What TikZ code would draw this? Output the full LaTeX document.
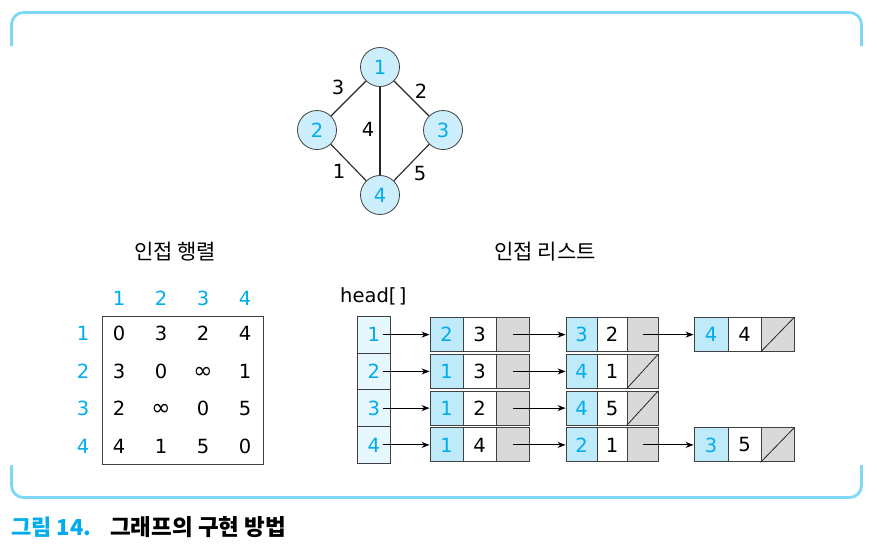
\documentclass[tikz,border=0pt]{standalone}
\usepackage{fontspec}
\setmainfont{DejaVu Sans}
\newfontfamily\kr{Noto Sans CJK KR}
\usetikzlibrary{arrows.meta}
\definecolor{cyantext}{RGB}{0,172,236}
\definecolor{framec}{RGB}{125,215,245}
\definecolor{circfill}{RGB}{205,238,252}
\definecolor{headfill}{RGB}{231,247,254}
\definecolor{keyfill}{RGB}{190,234,250}
\definecolor{grayfill}{RGB}{217,217,217}
\newcommand{\infsym}{{\fontsize{23}{23}\selectfont ∞}}
\tikzset{
  txt/.style={font=\fontsize{19.5}{19.5}\selectfont, inner sep=0pt, text height=14.2pt, text depth=0pt},
  cnum/.style={txt, text=cyantext},
  vert/.style={circle, draw=black!75, line width=0.8pt, fill=circfill, minimum size=39pt, inner sep=0pt, font=\fontsize{19.5}{19.5}\selectfont, text=cyantext},
  edge/.style={line width=1.1pt, black!85},
  box/.style={draw=black!75, line width=0.9pt, inner sep=0pt, minimum height=34pt, font=\fontsize{19.5}{19.5}\selectfont},
  headbox/.style={box, fill=headfill, text=cyantext, minimum width=32.5pt, minimum height=36.8pt},
  keybox/.style={box, fill=keyfill, text=cyantext},
  valbox/.style={box, fill=white},
  ptrbox/.style={box, fill=grayfill},
  link/.style={line width=0.9pt, -{Stealth[length=8pt,width=6pt]}},
  title/.style={font=\kr\fontsize{21}{21}\selectfont, inner sep=0pt},
}
\begin{document}
\begin{tikzpicture}[x=1pt,y=-1pt]
\useasboundingbox (0,0) rectangle (877,555);
% frame
\draw[framec, line width=2.8pt, rounded corners=12pt] (11.5,46) -- (11.5,12.5) -- (861.5,12.5) -- (861.5,46);
\draw[framec, line width=2.8pt, rounded corners=12pt] (11.5,465) -- (11.5,497.5) -- (861.5,497.5) -- (861.5,465);

% graph
\node[vert] (v1) at (380,67) {1};
\node[vert] (v2) at (317,130) {2};
\node[vert] (v3) at (443,130) {3};
\node[vert] (v4) at (380,195) {4};
\draw[edge] (v1) -- (v2);
\draw[edge] (v1) -- (v3);
\draw[edge] (v1) -- (v4);
\draw[edge] (v2) -- (v4);
\draw[edge] (v3) -- (v4);
\node[txt] (w12) at (338,87) {3};
\node[txt] (w13) at (421,91) {2};
\node[txt] (w14) at (368,129) {4};
\node[txt] (w24) at (339,171) {1};
\node[txt] (w34) at (420,173) {5};

% titles
\node[title] (t1) at (175,252) {인접 행렬};
\node[title] (t2) at (545,252) {인접 리스트};

% matrix
\draw[black!75, line width=0.9pt] (102,316) rectangle (263,464);
\foreach \c/\x in {1/119,2/161,3/203,4/245} {
  \node[cnum] (mc\c) at (\x,298) {\c};
}
\foreach \r/\y in {1/333.5,2/371,3/408,4/446} {
  \node[cnum] (mr\r) at (83,\y) {\r};
}
\foreach \r/\y/\a/\b/\cc/\d in {1/333.5/0/3/2/4, 2/371/3/0/\infsym/1, 3/408/2/\infsym/0/5, 4/446/4/1/5/0} {
  \node[txt] (m\r a) at (119,\y) {\a};
  \node[txt] (m\r b) at (161,\y) {\b};
  \node[txt] (m\r c) at (203,\y) {\cc};
  \node[txt] (m\r d) at (245,\y) {\d};
}

% head array
\node[txt, anchor=west, text depth=4pt] (head) at (340,297) {head[\hspace{2.5pt}]};
\node[headbox] (h1) at (373.75,334.6) {1};
\node[headbox] (h2) at (373.75,371.4) {2};
\node[headbox] (h3) at (373.75,408.1) {3};
\node[headbox] (h4) at (373.75,444.9) {4};

% list column 1 (x 430-529)
\foreach \r/\y/\k/\v in {1/334.6/2/3, 2/371.4/1/3, 3/408.1/1/2, 4/444.9/1/4} {
  \node[keybox, minimum width=33pt] (a\r k) at (446.5,\y) {\k};
  \node[valbox, minimum width=33pt] (a\r v) at (479.5,\y) {\v};
  \node[ptrbox, minimum width=33pt] (a\r p) at (512.5,\y) {};
  \draw[link] ([xshift=9pt]h\r.center) -- (a\r k.west);
}

% list column 2 (x 566-658)
\foreach \r/\y/\k/\v in {1/334.6/3/2, 2/371.4/4/1, 3/408.1/4/5, 4/444.9/2/1} {
  \node[keybox, minimum width=31pt] (b\r k) at (581.5,\y) {\k};
  \node[valbox, minimum width=30pt] (b\r v) at (612,\y) {\v};
  \node[ptrbox, minimum width=31pt] (b\r p) at (642.5,\y) {};
  \draw[link] (a\r p.center) -- (b\r k.west);
}
\draw[black!85, line width=0.8pt] (b2p.south west) -- (b2p.north east);
\draw[black!85, line width=0.8pt] (b3p.south west) -- (b3p.north east);

% list column 3 (x 694-794)
\foreach \r/\y/\k/\v in {1/334.6/4/4, 4/444.9/3/5} {
  \node[keybox, minimum width=34pt] (c\r k) at (711,\y) {\k};
  \node[valbox, minimum width=33pt] (c\r v) at (744.5,\y) {\v};
  \node[ptrbox, minimum width=33pt] (c\r p) at (777.5,\y) {};
  \draw[black!85, line width=0.8pt] (c\r p.south west) -- (c\r p.north east);
  \draw[link] (b\r p.center) -- (c\r k.west);
}

% caption
\node[inner sep=0pt, anchor=west, font=\kr\bfseries\fontsize{22}{22}\selectfont, text=cyantext] (cap1) at (11,527) {그림 14.};
\node[inner sep=0pt, anchor=west, font=\kr\bfseries\fontsize{22.5}{22.5}\selectfont] (cap2) at (110,527) {그래프의 구현 방법};
\end{tikzpicture}
\end{document}
